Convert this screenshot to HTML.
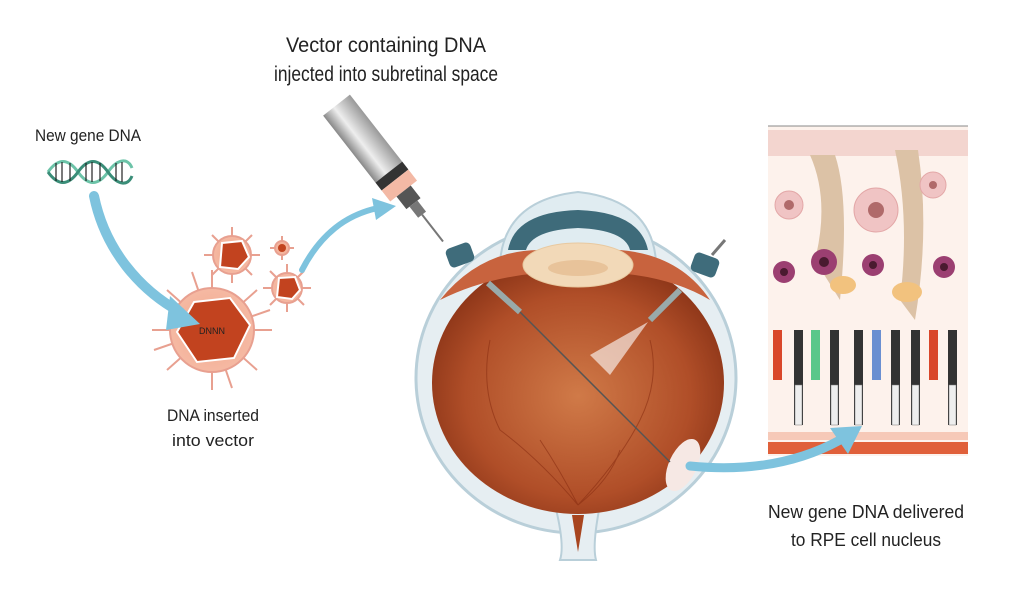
<!DOCTYPE html>
<html><head><meta charset="utf-8"><style>
body{margin:0;background:#fff;}
svg{display:block}
text{font-family:"Liberation Sans Narrow","Liberation Sans",sans-serif;fill:#222}
</style></head><body>
<svg width="1024" height="592" viewBox="0 0 1024 592" xmlns="http://www.w3.org/2000/svg">
<defs>
<radialGradient id="eyeIn" cx="0.5" cy="0.55" r="0.55">
<stop offset="0" stop-color="#d07a48"/><stop offset="0.7" stop-color="#b04e28"/><stop offset="1" stop-color="#8c3518"/></radialGradient>
<radialGradient id="vir" cx="0.5" cy="0.5" r="0.5"><stop offset="0" stop-color="#f3a88c"/><stop offset="1" stop-color="#f5b9a3"/></radialGradient>
<linearGradient id="barrel" x1="0" y1="0" x2="1" y2="0"><stop offset="0" stop-color="#888"/><stop offset="0.4" stop-color="#eee"/><stop offset="1" stop-color="#999"/></linearGradient>
</defs>
<rect width="1024" height="592" fill="#fff"/>

<text x="386" y="52" font-size="21" text-anchor="middle" textLength="200" lengthAdjust="spacingAndGlyphs">Vector containing DNA</text>
<text x="386" y="81" font-size="21" text-anchor="middle" textLength="224" lengthAdjust="spacingAndGlyphs">injected into subretinal space</text>
<text x="88" y="141" font-size="17" text-anchor="middle" textLength="106" lengthAdjust="spacingAndGlyphs">New gene DNA</text>
<text x="213" y="421" font-size="17" text-anchor="middle" textLength="92" lengthAdjust="spacingAndGlyphs">DNA inserted</text>
<text x="213" y="446" font-size="17" text-anchor="middle" textLength="82" lengthAdjust="spacingAndGlyphs">into vector</text>
<text x="866" y="518" font-size="18" text-anchor="middle" textLength="196" lengthAdjust="spacingAndGlyphs">New gene DNA delivered</text>
<text x="866" y="546" font-size="18" text-anchor="middle" textLength="150" lengthAdjust="spacingAndGlyphs">to RPE cell nucleus</text>

<g fill="none" stroke-width="3">
<path d="M48 172 C58 158,68 158,78 172 S98 186,108 172 S128 158,132 168" stroke="#6cc3a8"/>
<path d="M48 172 C58 186,68 186,78 172 S98 158,108 172 S128 186,132 176" stroke="#3a8d78"/>
</g>
<g stroke="#222" stroke-width="1.2">
<line x1="56" y1="163" x2="56" y2="181"/><line x1="62" y1="162" x2="62" y2="182"/><line x1="70" y1="163" x2="70" y2="181"/>
<line x1="86" y1="163" x2="86" y2="181"/><line x1="92" y1="162" x2="92" y2="182"/><line x1="100" y1="163" x2="100" y2="181"/>
<line x1="116" y1="163" x2="116" y2="181"/><line x1="122" y1="162" x2="122" y2="182"/>
</g>

<g stroke="#e8a090" stroke-width="2" fill="#f5c4b5">
<g transform="translate(212,330)">
<line x1="0" y1="-60" x2="0" y2="60"/><line x1="-60" y1="0" x2="60" y2="0"/><line x1="-45" y1="-40" x2="45" y2="40"/><line x1="-45" y1="40" x2="45" y2="-40"/><line x1="-20" y1="-58" x2="20" y2="58"/><line x1="-58" y1="20" x2="58" y2="-20"/>
<circle r="42" fill="url(#vir)"/>
<polygon points="-18,-28 18,-32 38,-5 22,28 -15,32 -35,2" fill="#c2431f" stroke="#fff"/>
</g>
<g transform="translate(232,255)">
<line x1="0" y1="-28" x2="0" y2="28"/><line x1="-28" y1="0" x2="28" y2="0"/><line x1="-20" y1="-20" x2="20" y2="20"/><line x1="-20" y1="20" x2="20" y2="-20"/>
<circle r="19" fill="url(#vir)"/>
<polygon points="-10,-12 10,-14 17,2 6,14 -12,12" fill="#c2431f" stroke="#fff"/>
</g>
<g transform="translate(287,288)">
<line x1="0" y1="-24" x2="0" y2="24"/><line x1="-24" y1="0" x2="24" y2="0"/><line x1="-17" y1="-17" x2="17" y2="17"/><line x1="-17" y1="17" x2="17" y2="-17"/>
<circle r="15" fill="url(#vir)"/>
<polygon points="-8,-10 8,-11 13,2 5,11 -10,9" fill="#c2431f" stroke="#fff"/>
</g>
<g transform="translate(282,248)">
<line x1="-12" y1="0" x2="12" y2="0"/><line x1="0" y1="-12" x2="0" y2="12"/>
<circle r="7" fill="url(#vir)"/><circle r="4" fill="#c2431f" stroke="none"/>
</g>
</g>
<text x="212" y="334" font-size="9" text-anchor="middle" fill="#222">DNNN</text>

<g transform="translate(395,180) rotate(-38)">
<rect x="-17" y="-95" width="34" height="85" fill="url(#barrel)"/>
<rect x="-17" y="-10" width="34" height="10" fill="#333"/>
<rect x="-17" y="0" width="34" height="14" fill="#f3b9a5"/>
<rect x="-9" y="14" width="18" height="16" fill="#555"/>
<rect x="-5" y="30" width="10" height="14" fill="#777"/>
<rect x="-1" y="44" width="2" height="34" fill="#777"/>
</g>
<ellipse cx="576" cy="378" rx="160" ry="155" fill="#e6eef2" stroke="#b9cfd9" stroke-width="3"/>
<path d="M555 505 Q565 545 560 560 L596 560 Q592 545 600 505 Z" fill="#e6eef2" stroke="#b9cfd9" stroke-width="2"/>
<path d="M572 515 Q576 540 578 552 Q580 540 584 515 Z" fill="#a8451f"/>
<path d="M500 262 Q505 200 578 192 Q652 200 656 262 Z" fill="#e0ecf1" stroke="#b9cfd9" stroke-width="2"/>
<path d="M508 250 Q515 212 578 210 Q640 212 648 250 L630 250 Q625 230 578 228 Q532 230 526 250 Z" fill="#3e6b7a"/>
<ellipse cx="578" cy="383" rx="146" ry="131" fill="url(#eyeIn)"/>
<path d="M440 300 Q480 250 540 250 L620 250 Q680 255 710 300 Q660 270 578 272 Q500 270 440 300Z" fill="#c8633e"/>
<ellipse cx="578" cy="265" rx="55" ry="22" fill="#f2d9b8" stroke="#e8c9a0"/>
<ellipse cx="578" cy="268" rx="30" ry="8" fill="#e8c39a"/>
<g stroke="#8a2e12" stroke-width="1" fill="none" opacity="0.6">
<path d="M578 505 Q540 460 500 430 Q480 390 490 340"/><path d="M578 505 Q620 460 640 420 Q660 380 650 340"/>
<path d="M578 505 Q560 470 540 440"/><path d="M578 505 Q610 480 620 450"/>
</g>
<ellipse cx="683" cy="465" rx="14" ry="28" fill="#f6e8e4" transform="rotate(25 683 465)"/>
<rect x="447" y="245" width="26" height="20" rx="5" fill="#3f6c7b" transform="rotate(-20 460 255)"/>
<rect x="692" y="255" width="26" height="20" rx="5" fill="#3f6c7b" transform="rotate(20 705 265)"/>
<line x1="712" y1="255" x2="725" y2="240" stroke="#777" stroke-width="3"/>
<line x1="488" y1="283" x2="520" y2="312" stroke="#9aa" stroke-width="6"/>
<line x1="520" y1="312" x2="670" y2="462" stroke="#555" stroke-width="1.5"/>
<line x1="680" y1="290" x2="650" y2="320" stroke="#9aa" stroke-width="6"/>
<polygon points="648,322 590,355 610,375" fill="#fff" opacity="0.6"/>

<rect x="768" y="126" width="200" height="330" fill="#fdf2ec"/>
<line x1="768" y1="126" x2="968" y2="126" stroke="#888"/>
<rect x="768" y="130" width="200" height="26" fill="#f3d5cf"/>
<path d="M810 155 Q830 200 815 260 L840 300 Q850 200 835 155Z" fill="#dcc2a6"/>
<path d="M895 150 Q910 220 900 300 L915 320 Q930 230 918 150Z" fill="#dcc2a6"/>
<g fill="#f0c4c4" stroke="#e3a7a7">
<circle cx="789" cy="205" r="14"/><circle cx="876" cy="210" r="22"/><circle cx="933" cy="185" r="13"/>
</g>
<g fill="#b06a6a"><circle cx="789" cy="205" r="5"/><circle cx="876" cy="210" r="8"/><circle cx="933" cy="185" r="4"/></g>
<g fill="#9b3f71"><circle cx="784" cy="272" r="11"/><circle cx="824" cy="262" r="13"/><circle cx="873" cy="265" r="11"/><circle cx="944" cy="267" r="11"/></g>
<g fill="#4a1a30"><circle cx="784" cy="272" r="4"/><circle cx="824" cy="262" r="5"/><circle cx="873" cy="265" r="4"/><circle cx="944" cy="267" r="4"/></g>
<ellipse cx="843" cy="285" rx="13" ry="9" fill="#f2c27e"/><ellipse cx="907" cy="292" rx="15" ry="10" fill="#f2c27e"/>
<g>
<rect x="773" y="330" width="9" height="50" fill="#d9472a"/>
<rect x="794" y="330" width="9" height="95" fill="#333"/>
<rect x="811" y="330" width="9" height="50" fill="#59c78a"/>
<rect x="830" y="330" width="9" height="95" fill="#333"/>
<rect x="854" y="330" width="9" height="95" fill="#333"/>
<rect x="872" y="330" width="9" height="50" fill="#6a8fd1"/>
<rect x="891" y="330" width="9" height="95" fill="#333"/>
<rect x="911" y="330" width="9" height="95" fill="#333"/>
<rect x="929" y="330" width="9" height="50" fill="#d9472a"/>
<rect x="948" y="330" width="9" height="95" fill="#333"/>
</g>
<g fill="#eee" stroke="#777" stroke-width="0.5">
<rect x="795" y="385" width="7" height="40"/><rect x="831" y="385" width="7" height="40"/><rect x="855" y="385" width="7" height="40"/><rect x="892" y="385" width="7" height="40"/><rect x="912" y="385" width="7" height="40"/><rect x="949" y="385" width="7" height="40"/>
</g>
<rect x="768" y="432" width="200" height="8" fill="#f6c9b8"/>
<rect x="768" y="442" width="200" height="12" fill="#e0603a"/>

<g fill="none" stroke="#7ec3de" stroke-linecap="round">
<path d="M94 196 C105 250,140 290,180 312" stroke-width="10"/>
<path d="M302 270 C320 235,345 215,378 208" stroke-width="6"/>
<path d="M690 466 C750 472,800 462,840 440" stroke-width="9"/>
</g>
<polygon points="170,296 200,324 166,330" fill="#7ec3de"/>
<polygon points="372,198 396,206 376,220" fill="#7ec3de"/>
<polygon points="830,428 862,426 848,454" fill="#7ec3de"/>
</svg>
</body></html>
